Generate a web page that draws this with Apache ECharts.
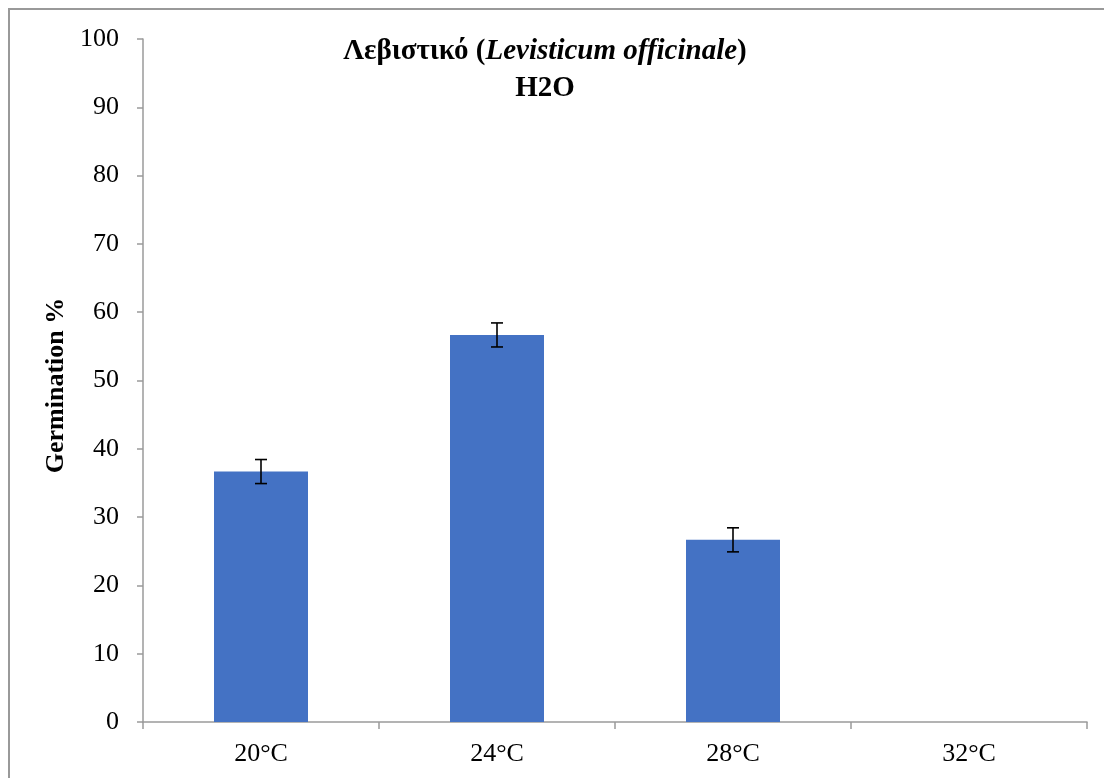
<!DOCTYPE html>
<html>
<head>
<meta charset="utf-8">
<style>
  html, body { margin: 0; padding: 0; background: #ffffff; }
  #chart { width: 1104px; height: 778px; }
</style>
<script src="https://cdn.jsdelivr.net/npm/echarts@6/dist/echarts.min.js"></script>
</head>
<body>
<div id="chart"></div>
<script>
// Germination of lovage seeds in water at four temperatures
const categories = ['20°C', '24°C', '28°C', '32°C'];
const germination = [36.67, 56.67, 26.67, 0];
const stdError = [1.76, 1.76, 1.76, 0];
const yTicks = { min: 0, max: 100, interval: 10 };

const serif = '"Liberation Serif", "Times New Roman", serif';
const axisGray = '#9a9a9a';

const chart = echarts.init(document.getElementById('chart'), null, { renderer: 'canvas' });

chart.setOption({
  backgroundColor: '#ffffff',
  animation: false,
  title: {
    text: '{b|Λεβιστικό (}{bi|Levisticum officinale}{b|)}\n{b|H2O}',
    left: 540,
    top: 28,
    textAlign: 'center',
    textStyle: {
      rich: {
        b: { fontFamily: serif, fontWeight: 'bold', fontSize: 29, color: '#000', lineHeight: 37 },
        bi: { fontFamily: serif, fontWeight: 'bold', fontStyle: 'italic', fontSize: 29, color: '#000', lineHeight: 37 }
      }
    }
  },
  graphic: [{
    type: 'rect',
    shape: { x: 9, y: 9, width: 2000, height: 2000 },
    style: { fill: 'none', stroke: '#999999', lineWidth: 2 },
    silent: true,
    z: -1
  }],
  grid: { left: 143, right: 17, top: 39, bottom: 56 },
  xAxis: {
    type: 'category',
    data: categories,
    axisLine: { lineStyle: { color: axisGray, width: 1.5 } },
    axisTick: { show: true, length: 7, lineStyle: { color: axisGray, width: 1.5 } },
    axisLabel: { fontFamily: serif, fontSize: 26, color: '#000', margin: 19 },
    splitLine: { show: false }
  },
  yAxis: {
    type: 'value',
    min: yTicks.min,
    max: yTicks.max,
    interval: yTicks.interval,
    name: 'Germination %',
    nameLocation: 'middle',
    nameGap: 71,
    nameRotate: 90,
    nameTextStyle: { fontFamily: serif, fontWeight: 'bold', fontSize: 26, color: '#000', padding: [0, 10, 0, 0] },
    axisLine: { show: true, lineStyle: { color: axisGray, width: 1.5 } },
    axisTick: { show: true, length: 6, lineStyle: { color: axisGray, width: 1.5 } },
    axisLabel: { fontFamily: serif, fontSize: 26, color: '#000', margin: 24 },
    splitLine: { show: false }
  },
  series: [
    {
      type: 'bar',
      data: germination,
      barWidth: 94,
      itemStyle: { color: '#4472C4' }
    },
    {
      type: 'custom',
      data: germination.map((v, i) => [i, v, stdError[i]]),
      z: 10,
      renderItem: function (params, api) {
        const i = api.value(0);
        const v = api.value(1);
        const e = api.value(2);
        if (!e) return null;
        const hi = api.coord([i, v + e]);
        const lo = api.coord([i, v - e]);
        const cap = 6;
        const style = { stroke: '#000', lineWidth: 1.6 };
        return {
          type: 'group',
          children: [
            { type: 'line', shape: { x1: hi[0], y1: hi[1], x2: lo[0], y2: lo[1] }, style },
            { type: 'line', shape: { x1: hi[0] - cap, y1: hi[1], x2: hi[0] + cap, y2: hi[1] }, style },
            { type: 'line', shape: { x1: lo[0] - cap, y1: lo[1], x2: lo[0] + cap, y2: lo[1] }, style }
          ]
        };
      }
    }
  ]
});
</script>
</body>
</html>
